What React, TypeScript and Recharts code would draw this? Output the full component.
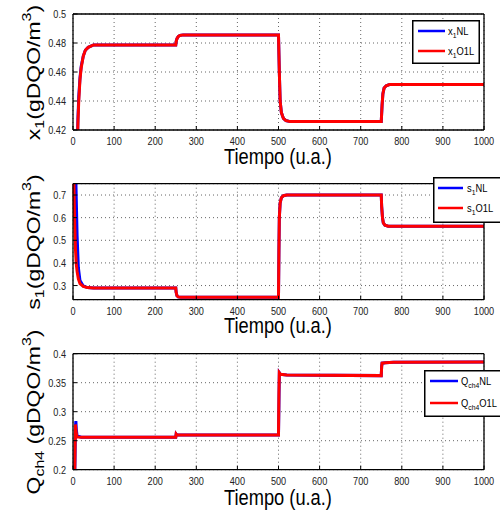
import { LineChart, Line, XAxis, YAxis, CartesianGrid, Legend } from "recharts";

const FONT = "'Liberation Sans', Arial, sans-serif";
const SX = 0.83;

const timeTicks = [0, 100, 200, 300, 400, 500, 600, 700, 800, 900, 1000];

// x1 subplot
const t1 = [0, 5, 10, 12, 14, 17, 20, 25, 30, 37, 50, 250, 251, 253, 256, 260, 268, 500, 502, 504, 507, 512, 518, 528, 750, 752, 754, 757, 762, 770, 1000];
const x1NL = [0.3, 0.34, 0.4, 0.428, 0.443, 0.456, 0.464, 0.471, 0.475, 0.477, 0.4787, 0.4787, 0.481, 0.483, 0.4845, 0.4852, 0.4856, 0.4856, 0.46, 0.44, 0.432, 0.428, 0.4265, 0.4258, 0.4258, 0.437, 0.445, 0.449, 0.4505, 0.4513, 0.4513];
const x1O1L = [0.3, 0.34, 0.4, 0.425, 0.44, 0.455, 0.463, 0.471, 0.475, 0.477, 0.4787, 0.4787, 0.481, 0.483, 0.4845, 0.4852, 0.4856, 0.4856, 0.46, 0.44, 0.432, 0.428, 0.4265, 0.4258, 0.4258, 0.437, 0.445, 0.449, 0.4505, 0.4513, 0.4513];
const x1Ticks = [0.42, 0.44, 0.46, 0.48, 0.5];

// s1 subplot
const t2 = [0, 2, 4, 6, 8, 10, 13, 17, 25, 35, 50, 250, 251, 253, 256, 262, 500, 501, 502, 504, 507, 512, 520, 750, 751, 753, 755, 759, 767, 1000];
const s1NL = [1.3, 1.15, 1.0, 0.85, 0.68, 0.52, 0.38, 0.322, 0.298, 0.291, 0.2896, 0.2896, 0.27, 0.255, 0.25, 0.248, 0.248, 0.45, 0.6, 0.665, 0.688, 0.697, 0.7, 0.7, 0.65, 0.6, 0.577, 0.567, 0.562, 0.562];
const s1O1L = [0.95, 0.78, 0.58, 0.46, 0.395, 0.362, 0.33, 0.309, 0.296, 0.291, 0.2896, 0.2896, 0.27, 0.255, 0.25, 0.248, 0.248, 0.45, 0.6, 0.665, 0.688, 0.697, 0.7, 0.7, 0.65, 0.6, 0.577, 0.567, 0.562, 0.562];
const s1Ticks = [0.3, 0.4, 0.5, 0.6, 0.7];

// Qch4 subplot
const t3 = [0, 4, 5, 6, 7, 8, 10, 20, 250, 251, 252, 254, 260, 500, 501, 502, 505, 520, 750, 751, 752, 760, 780, 1000];
const qNL = [0.16, 0.18, 0.22, 0.275, 0.2837, 0.27, 0.258, 0.2559, 0.2559, 0.2614, 0.2605, 0.26, 0.2598, 0.2598, 0.31, 0.3674, 0.3645, 0.3634, 0.3622, 0.378, 0.3837, 0.3845, 0.3852, 0.3855];
const qO1L = [0.17, 0.19, 0.24, 0.278, 0.27, 0.262, 0.2565, 0.2559, 0.2559, 0.2614, 0.2605, 0.26, 0.2598, 0.2598, 0.33, 0.3674, 0.3645, 0.3634, 0.3622, 0.378, 0.3837, 0.3845, 0.3852, 0.3855];
const qTicks = [0.2, 0.25, 0.3, 0.35, 0.4];

function rows(t: number[], nl: number[], o1l: number[]) {
  return t.map((v, i) => ({ t: v, nl: nl[i], o1l: o1l[i] }));
}

const XTick = ({ x, y, payload }: any) => (
  <text transform={`translate(${x},${y + 11}) scale(${SX},1)`} textAnchor="middle" fontSize={11} fontFamily={FONT} fill="#222">
    {payload.value}
  </text>
);

const YTick = ({ x, y, payload }: any) => (
  <text transform={`translate(${x},${y + 4}) scale(${SX},1)`} textAnchor="end" fontSize={11} fontFamily={FONT} fill="#222">
    {payload.value}
  </text>
);

function LegendBox({ w, h, lx1, lx2, ly1, ly2, tx, main, sub }: any) {
  const label = (y: number, suffix: string) => (
    <text transform={`translate(${tx},${y + 3.5}) scale(0.85,1)`} fontSize={11} fontFamily={FONT} fill="#000">
      {main}
      <tspan dy={3} fontSize={8}>{sub}</tspan>
      <tspan dy={-3}>{suffix}</tspan>
    </text>
  );
  return (
    <svg width={w} height={h} style={{ display: "block" }}>
      <rect x={0.75} y={0.75} width={w - 1.5} height={h - 1.5} fill="#fff" stroke="#000" strokeWidth={1.5} />
      <line x1={lx1} x2={lx2} y1={ly1} y2={ly1} stroke="#0000ff" strokeWidth={2.5} />
      <line x1={lx1} x2={lx2} y1={ly2} y2={ly2} stroke="#ff0000" strokeWidth={2.5} />
      {label(ly1, "NL")}
      {label(ly2, "O1L")}
    </svg>
  );
}

const frame = { stroke: "#000", strokeWidth: 1.3 };

function Panel({ data, domain, ticks, mTop, mBottom, legend }: any) {
  return (
    <LineChart width={500} height={172} data={data} margin={{ top: mTop - 1, right: 16, bottom: mBottom - 20, left: 33 }}>
      <CartesianGrid stroke="#666" strokeDasharray="1 3" strokeWidth={1} />
      <XAxis dataKey="t" type="number" domain={[0, 1000]} ticks={timeTicks} height={20} interval={0}
        axisLine={frame} tickLine={{ stroke: "#000" }} tickSize={-4} tickMargin={8} tick={<XTick />} />
      <XAxis xAxisId="top" orientation="top" mirror type="number" domain={[0, 1000]} ticks={timeTicks} height={1} interval={0}
        axisLine={frame} tickLine={{ stroke: "#000" }} tickSize={4} tick={false} />
      <YAxis type="number" domain={domain} ticks={ticks} width={40} interval={0} allowDataOverflow
        axisLine={frame} tickLine={{ stroke: "#000" }} tickSize={-4} tickMargin={11} tick={<YTick />} />
      <YAxis yAxisId="r" orientation="right" mirror type="number" domain={domain} ticks={ticks} width={1} interval={0} allowDataOverflow
        axisLine={frame} tickLine={{ stroke: "#000" }} tickSize={4} tick={false} />
      <Line type="linear" dataKey="nl" stroke="#0000ff" strokeWidth={3} dot={false} isAnimationActive={false} />
      <Line type="linear" dataKey="o1l" stroke="#ff0000" strokeWidth={3} dot={false} isAnimationActive={false} />
      <Legend layout="horizontal" verticalAlign="middle" align="center"
        wrapperStyle={{ position: "absolute", left: legend.left, top: legend.top, width: legend.w, height: legend.h }}
        content={() => <LegendBox {...legend} />} />
    </LineChart>
  );
}

function XLabel({ y }: { y: number }) {
  return (
    <text transform={`translate(278,${y}) scale(${SX},1)`} textAnchor="middle" fontSize={22} fontFamily={FONT} fill="#000">
      Tiempo (u.a.)
    </text>
  );
}

function YLabel({ y, main, sub, gap }: any) {
  return (
    <text transform={`translate(39.5,${y}) scale(${SX},1) rotate(-90)`} textAnchor="middle" fontSize={23} fontFamily={FONT} fill="#000">
      {main}
      <tspan dy={5} fontSize={16}>{sub}</tspan>
      <tspan dy={-5}>{gap}(gDQO/m</tspan>
      <tspan dy={-10} fontSize={16}>3</tspan>
      <tspan dy={10}>)</tspan>
    </text>
  );
}

export default function App() {
  return (
    <div style={{ position: "fixed", left: 0, top: 0, width: 500, height: 516, overflow: "hidden", background: "#fff" }}>
      <div style={{ position: "absolute", left: 0, top: 0 }}>
        <Panel data={rows(t1, x1NL, x1O1L)} domain={[0.42, 0.5]} ticks={x1Ticks} mTop={15} mBottom={42}
          legend={{ left: 412, top: 20, w: 68, h: 44, lx1: 6, lx2: 33, ly1: 11, ly2: 31, tx: 36, main: "x", sub: "1" }} />
      </div>
      <div style={{ position: "absolute", left: 0, top: 172 }}>
        <Panel data={rows(t2, s1NL, s1O1L)} domain={[0.2375, 0.75]} ticks={s1Ticks} mTop={12.7} mBottom={44.3}
          legend={{ left: 433, top: 5, w: 75, h: 46, lx1: 5, lx2: 30, ly1: 11, ly2: 31, tx: 34, main: "s", sub: "1" }} />
      </div>
      <div style={{ position: "absolute", left: 0, top: 344 }}>
        <Panel data={rows(t3, qNL, qO1L)} domain={[0.2, 0.4]} ticks={qTicks} mTop={10.7} mBottom={46.3}
          legend={{ left: 424, top: 26, w: 82, h: 47, lx1: 6, lx2: 34, ly1: 11, ly2: 33, tx: 37, main: "Q", sub: "ch4" }} />
      </div>
      <svg width={500} height={516} style={{ position: "absolute", left: 0, top: 0, pointerEvents: "none" }}>
        <XLabel y={163.5} />
        <XLabel y={333} />
        <XLabel y={505} />
        <YLabel y={72.5} main="x" sub="1" gap="" />
        <YLabel y={242} main="s" sub="1" gap="" />
        <YLabel y={412} main="Q" sub="ch4" gap=" " />
      </svg>
    </div>
  );
}
